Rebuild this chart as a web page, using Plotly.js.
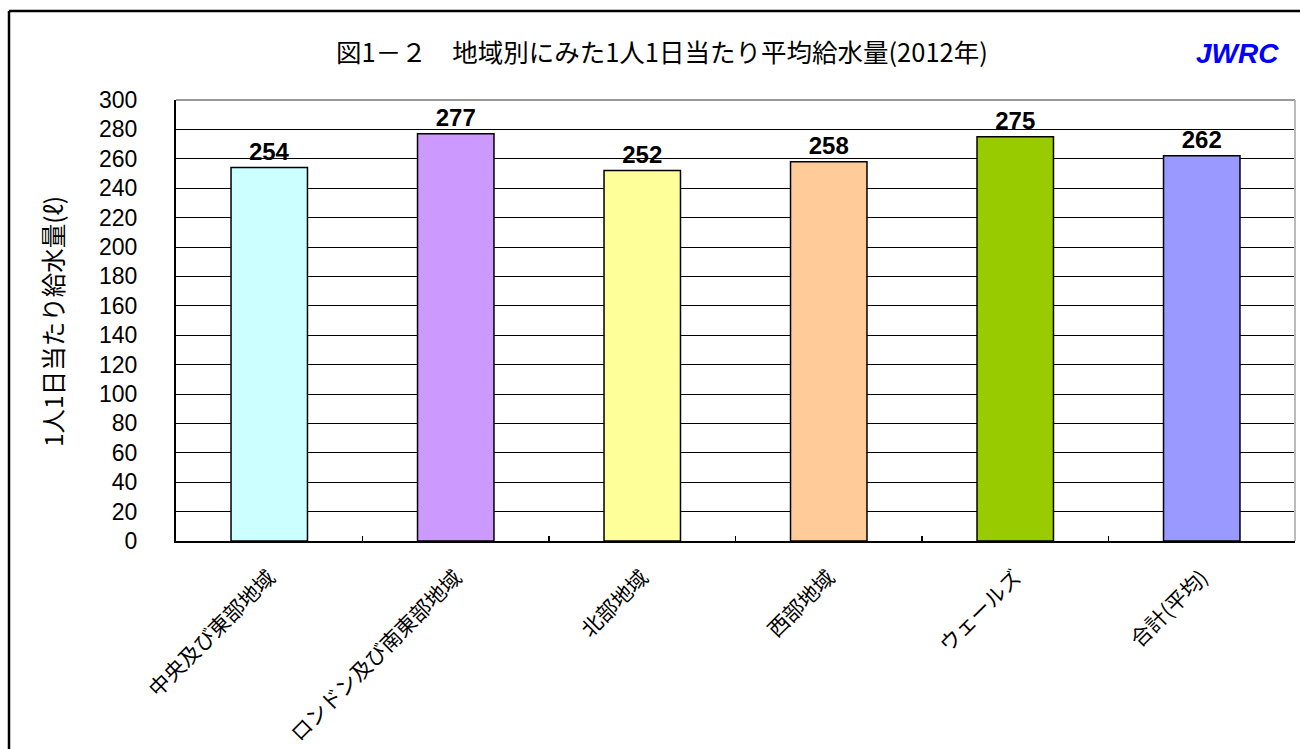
<!DOCTYPE html>
<html>
<head>
<meta charset="utf-8">
<script src="https://cdn.plot.ly/plotly-3.0.1.min.js"></script>
<style>html,body{margin:0;padding:0;background:#fff;}#chart{width:1300px;height:749px;}</style>
</head>
<body>
<div id="chart"></div>
<script>
const categories = ["中央及び東部地域", "ロンドン及び南東部地域", "北部地域", "西部地域", "ウェールズ", "合計(平均)"];
const values = [254, 277, 252, 258, 275, 262];
const barColors = ["#CCFFFF", "#CC99FF", "#FFFF99", "#FFCC99", "#99CC00", "#9999FF"];
const yTicks = [0, 20, 40, 60, 80, 100, 120, 140, 160, 180, 200, 220, 240, 260, 280, 300];

const W = 1300, H = 749;
const L = 176, R = 5, T = 100, B = 208;
const pw = W - L - R, ph = H - T - B;
const px = v => (v - L) / pw;
const py = v => (H - B - v) / ph;

const jp = "'Noto Sans CJK JP', 'Noto Sans', sans-serif";
const num = "'Liberation Sans', Arial, sans-serif";

const trace = {
  type: "bar",
  x: categories,
  y: values,
  width: 0.41,
  marker: {color: barColors, line: {color: "#000", width: 1.5}},
  text: values.map(String),
  textposition: "outside",
  cliponaxis: false,
  textfont: {family: num, size: 24, color: "#000", weight: "bold"},
  hoverinfo: "skip"
};

const layout = {
  width: W, height: H,
  margin: {l: L, r: R, t: T, b: B, pad: 0},
  paper_bgcolor: "#fff", plot_bgcolor: "#fff",
  showlegend: false,
  bargap: 0.59,
  xaxis: {
    type: "category",
    tickangle: -45,
    tickson: "boundaries",
    ticks: "inside", ticklen: 5, tickcolor: "#000", tickwidth: 1.5,
    showline: true, linecolor: "#000", linewidth: 2,
    showgrid: false,
    ticklabelstandoff: 14,
    tickfont: {family: jp, size: 21, color: "#000"},
    fixedrange: true
  },
  yaxis: {
    range: [0, 300],
    tickvals: yTicks,
    ticktext: yTicks.map(String),
    showline: true, linecolor: "#000", linewidth: 2,
    showgrid: true, gridcolor: "#000", gridwidth: 1,
    ticks: "",
    tickfont: {family: num, size: 23, color: "#000"},
    ticklabelstandoff: 32,
    zeroline: false,
    fixedrange: true
  },
  annotations: [
    {xref: "paper", yref: "paper", x: px(662), y: py(50), xanchor: "center", yanchor: "middle",
     text: "図1－２　地域別にみた1人1日当たり平均給水量(2012年)", showarrow: false,
     font: {family: jp, size: 25.5, color: "#000"}},
    {xref: "paper", yref: "paper", x: px(1281), y: py(54), xanchor: "right", yanchor: "middle",
     text: "<b><i>JWRC</i></b>", showarrow: false,
     font: {family: num, size: 28, color: "#0000FF"}},
    {xref: "paper", yref: "paper", x: px(52), y: py(322), xanchor: "center", yanchor: "middle",
     text: "1人1日当たり給水量(ℓ)", showarrow: false, textangle: -90,
     font: {family: jp, size: 24.5, color: "#000"}}
  ],
  shapes: [
    {type: "line", xref: "paper", yref: "paper", x0: 0, x1: 1, y0: 1, y1: 1, line: {color: "#999", width: 2}, layer: "above"},
    {type: "line", xref: "paper", yref: "paper", x0: 1, x1: 1, y0: 0, y1: 1, line: {color: "#bbb", width: 2}, layer: "above"},
    {type: "line", xref: "paper", yref: "paper", x0: px(9), x1: px(1320), y0: py(11), y1: py(11), line: {color: "#000", width: 2.5}},
    {type: "line", xref: "paper", yref: "paper", x0: px(9), x1: px(9), y0: py(11), y1: py(770), line: {color: "#000", width: 2.5}}
  ]
};

Plotly.newPlot("chart", [trace], layout, {displayModeBar: false, staticPlot: true});
</script>
</body>
</html>
